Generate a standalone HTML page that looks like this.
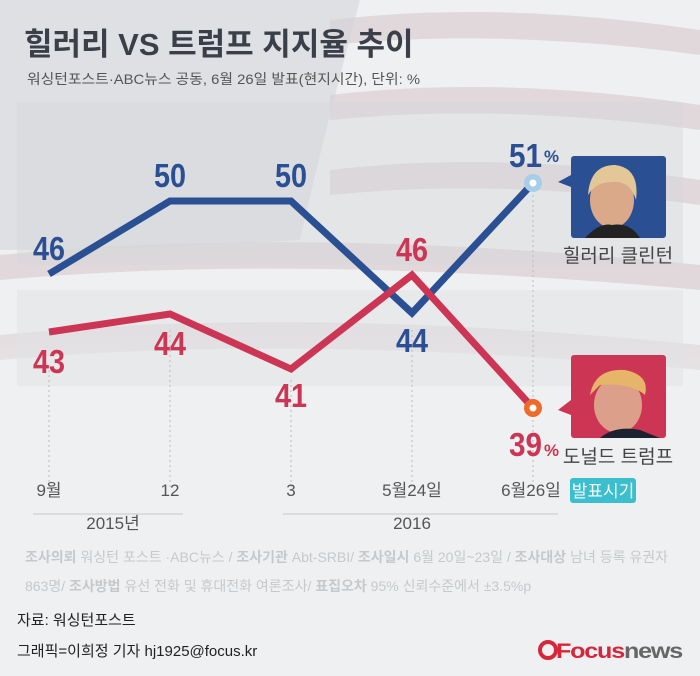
<!DOCTYPE html>
<html><head><meta charset="utf-8"><style>
body{margin:0;width:700px;height:676px;overflow:hidden;background:#eef0f1;font-family:"Liberation Sans","Noto Sans CJK KR",sans-serif}
svg{position:absolute;left:0;top:0}
</style></head><body>
<svg width="700" height="676" viewBox="0 0 700 676">
<defs><linearGradient id="fade" x1="0" y1="0" x2="0" y2="1"><stop offset="0" stop-color="#eef0f1" stop-opacity="0"/><stop offset="1" stop-color="#eef0f1" stop-opacity="1"/></linearGradient></defs>
<rect width="700" height="676" fill="#eef0f1"/>
<g fill="#dccfd2" opacity="0.7">
<path d="M330 20 Q500 0 700 30 L700 55 Q500 28 330 45Z"/>
<path d="M330 95 Q500 75 700 105 L700 130 Q500 103 330 120Z"/>
<path d="M330 170 Q500 150 700 180 L700 205 Q500 178 330 195Z"/>
<path d="M0 255 Q300 225 700 265 L700 290 Q300 253 0 280Z"/>
<path d="M0 335 Q300 305 700 345 L700 370 Q300 333 0 360Z"/>
</g>
<path d="M0 0 H360 Q320 150 300 240 Q150 250 0 250Z" fill="#d3d6db" opacity="0.6"/>
<rect x="0" y="300" width="700" height="160" fill="url(#fade)"/>
<rect x="17" y="102" width="666" height="163" fill="#d4d6d9" opacity="0.45"/>
<rect x="17" y="290" width="666" height="96" fill="#dfe1e3" opacity="0.5"/>
<g stroke="#b9bcc0" stroke-dasharray="2,3" stroke-width="1">
<line x1="49" y1="370" x2="49" y2="488"/><line x1="170" y1="330" x2="170" y2="488"/><line x1="291" y1="380" x2="291" y2="488"/><line x1="412" y1="330" x2="412" y2="488"/><line x1="533" y1="190" x2="533" y2="488"/>
</g>
<polyline points="49,274 170,201 291,201 412,313 533,183" fill="none" stroke="#2a4f93" stroke-width="7"/>
<polyline points="49,332 170,314 291,369 412,275 533,408" fill="none" stroke="#cc3553" stroke-width="7"/>
<circle cx="533" cy="183" r="9" fill="#a8cde8"/><circle cx="533" cy="183" r="3.5" fill="#fff"/>
<circle cx="533" cy="408" r="9" fill="#ee6a2b"/><circle cx="533" cy="408" r="3.5" fill="#fff"/>
<g font-weight="bold" font-size="33" fill="#2a4f93" lengthAdjust="spacingAndGlyphs">
<text x="33" y="260" textLength="32" lengthAdjust="spacingAndGlyphs">46</text>
<text x="154" y="187" textLength="32" lengthAdjust="spacingAndGlyphs">50</text>
<text x="275" y="187" textLength="32" lengthAdjust="spacingAndGlyphs">50</text>
<text x="396" y="352" textLength="32" lengthAdjust="spacingAndGlyphs">44</text>
<text x="509" y="167" textLength="33" lengthAdjust="spacingAndGlyphs">51</text>
<text x="544" y="162" font-size="17" textLength="15" lengthAdjust="spacingAndGlyphs">%</text>
</g>
<g font-weight="bold" font-size="33" fill="#cc3553">
<text x="33" y="373" textLength="32" lengthAdjust="spacingAndGlyphs">43</text>
<text x="154" y="355" textLength="32" lengthAdjust="spacingAndGlyphs">44</text>
<text x="275" y="407" textLength="32" lengthAdjust="spacingAndGlyphs">41</text>
<text x="396" y="261" textLength="32" lengthAdjust="spacingAndGlyphs">46</text>
<text x="509" y="456" textLength="33" lengthAdjust="spacingAndGlyphs">39</text>
<text x="544" y="456" font-size="17" textLength="15" lengthAdjust="spacingAndGlyphs">%</text>
</g>
<rect x="571" y="156" width="95" height="82" rx="3" fill="#2a4f93"/><path d="M571 175 L558 182 L571 187Z" fill="#2a4f93"/>
<ellipse cx="612" cy="200" rx="22" ry="28" fill="#d9a98a"/><path d="M588 195 Q590 165 615 165 Q640 168 636 200 Q630 180 612 182 Q596 182 588 195Z" fill="#e3c796"/><path d="M585 238 Q600 222 612 225 Q630 222 640 238Z" fill="#222"/>
<rect x="571" y="355" width="95" height="83" rx="3" fill="#cc3553"/><path d="M571 400 L558 410 L571 415Z" fill="#cc3553"/>
<ellipse cx="618" cy="405" rx="24" ry="28" fill="#dca08a"/><path d="M590 395 Q595 368 625 370 Q650 375 645 395 Q630 382 600 385Z" fill="#e6b56a"/><path d="M600 438 Q615 425 640 430 L660 438Z" fill="#1d2233"/>
<g fill="#444" font-size="19" text-anchor="middle">
<text x="618" y="262">힐러리 클린턴</text><text x="618" y="463">도널드 트럼프</text>
</g>
<g fill="#555" font-size="17" text-anchor="middle">
<text x="49" y="496">9월</text><text x="170" y="496">12</text><text x="291" y="496">3</text><text x="412" y="496">5월24일</text><text x="531" y="496">6월26일</text>
<text x="113" y="529">2015년</text><text x="412" y="529">2016</text>
</g>
<line x1="33" y1="514" x2="183" y2="514" stroke="#d3d6d9" stroke-width="1.5"/>
<line x1="283" y1="514" x2="558" y2="514" stroke="#d3d6d9" stroke-width="1.5"/>
<rect x="570" y="478" width="66" height="25" rx="3" fill="#3bbfcf"/>
<text x="603" y="497" font-size="17" fill="#fff" text-anchor="middle">발표시기</text>
<text x="24" y="55" font-size="31" font-weight="bold" fill="#3a3f4a">힐러리 VS 트럼프 지지율 추이</text>
<text x="27" y="84" font-size="14" fill="#555" textLength="393" lengthAdjust="spacingAndGlyphs">워싱턴포스트·ABC뉴스 공동, 6월 26일 발표(현지시간), 단위: %</text>
<g font-size="14" fill="#c6c9cc">
<text x="25" y="562"><tspan font-weight="bold">조사의뢰</tspan> 워싱턴 포스트 ·ABC뉴스 / <tspan font-weight="bold">조사기관</tspan> Abt-SRBI/ <tspan font-weight="bold">조사일시</tspan> 6월 20일~23일 / <tspan font-weight="bold">조사대상</tspan> 남녀 등록 유권자</text>
<text x="25" y="591">863명/ <tspan font-weight="bold">조사방법</tspan> 유선 전화 및 휴대전화 여론조사/ <tspan font-weight="bold">표집오차</tspan> 95% 신뢰수준에서 ±3.5%p</text>
</g>
<g font-size="15" fill="#222">
<text x="17" y="625">자료: 워싱턴포스트</text><text x="17" y="656">그래픽=이희정 기자 hj1925@focus.kr</text>
</g>
<circle cx="548" cy="650" r="8" fill="none" stroke="#d6263a" stroke-width="4"/>
<text x="556" y="658" font-size="21" font-weight="bold" fill="#d6263a" letter-spacing="-1" textLength="126" lengthAdjust="spacingAndGlyphs">Focus<tspan fill="#666">news</tspan></text>
</svg>
</body></html>
